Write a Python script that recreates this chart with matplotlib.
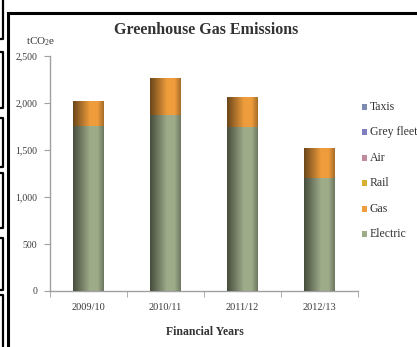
import numpy as np
import matplotlib
matplotlib.use("Agg")
import matplotlib.pyplot as plt
from matplotlib.patches import Rectangle
from matplotlib.lines import Line2D

years = ["2009/10", "2010/11", "2011/12", "2012/13"]
electric = [1760, 1870, 1750, 1205]
gas = [260, 393, 317, 313]
rail = [0, 0, 0, 0]
air = [0, 0, 0, 0]
grey_fleet = [0, 0, 0, 0]
taxis = [0, 0, 0, 0]
yticks = [0, 500, 1000, 1500, 2000, 2500]
ytick_labels = ["0", "500", "1,000", "1,500", "2,000", "2,500"]

series = [("Electric", electric, "#9DAB89"),
          ("Gas", gas, "#EE9C3C"),
          ("Rail", rail, "#D8B032"),
          ("Air", air, "#C08C9C"),
          ("Grey fleet", grey_fleet, "#7E7EC0"),
          ("Taxis", taxis, "#7B8CB0")]

plt.rcParams['font.family'] = ['Liberation Serif', 'DejaVu Serif']
plt.rcParams['mathtext.fontset'] = 'custom'
plt.rcParams['mathtext.rm'] = 'Liberation Serif'

W, H = 417, 347
fig = plt.figure(figsize=(W / 100, H / 100), dpi=100)
fig.patch.set_facecolor("white")

def fx(x):
    return x / W

def fy(y):
    return 1 - y / H

ax = fig.add_axes([fx(50), fy(291), fx(358) - fx(50), fy(56) - fy(291)])
x = np.arange(len(years))
width = 0.39
bottom = np.zeros(len(years))
for name, vals, col in series:
    vals = np.array(vals, dtype=float)
    ax.bar(x, vals, width, bottom=bottom, color=col, edgecolor='none', label=name,
           zorder=2, antialiased=False)
    bottom += vals

# cylinder shading over each whole stacked column
prof = np.linspace(0, 1, 64)
dark = np.clip(0.55 * (1 - prof / 0.55), 0, None) + np.clip((prof - 0.8) / 0.2, 0, None) * 0.3
shade = np.zeros((1, 64, 4))
shade[..., 3] = dark
for xi, tot in zip(x, bottom):
    clip = Rectangle((xi - width / 2, 0), width, tot, transform=ax.transData,
                     facecolor='none', edgecolor='none')
    im = ax.imshow(shade, extent=[xi - width / 2, xi + width / 2, -20, tot + 20],
                   aspect='auto', interpolation='bilinear', zorder=3)
    im.set_clip_path(clip)

ax.set_xlim(-0.5, 3.5)
ax.set_ylim(0, 2500)
ax.set_yticks(yticks)
ax.set_yticklabels(ytick_labels)
ax.set_xticks(x)
ax.set_xticklabels(years)
ax.set_xticks(np.arange(-0.5, 4.0, 1.0), minor=True)
ax.tick_params(axis='x', which='major', length=0, pad=9, labelsize=7.5, labelcolor='#3a3a3a')
ax.tick_params(axis='x', which='minor', length=4, direction='out', color='#a0a0a0')
ax.tick_params(axis='y', length=4, direction='out', color='#a0a0a0', labelsize=7,
               labelcolor='#3a3a3a', pad=5)
for s in ['top', 'right']:
    ax.spines[s].set_visible(False)
for s in ['left', 'bottom']:
    ax.spines[s].set_color('#a0a0a0')
    ax.spines[s].set_linewidth(1.0)

fig.text(fx(206), fy(30), "Greenhouse Gas Emissions", ha='center', va='center',
         fontsize=11.5, fontweight='bold', color='#333333')
fig.text(fx(41), fy(42), r"tCO$_\mathregular{2}$e", ha='center', va='center',
         fontsize=8, color='#333333')
fig.text(fx(205), fy(332), "Financial Years", ha='center', va='center',
         fontsize=8.5, fontweight='bold', color='#333333')

# legend
leg_names = ["Taxis", "Grey fleet", "Air", "Rail", "Gas", "Electric"]
leg_cols = {n: c for n, _, c in series}
for i, n in enumerate(leg_names):
    yy = 107 + i * 25.4
    fig.patches.append(Rectangle((fx(362), fy(yy + 3)), fx(5), 6 / H,
                                 transform=fig.transFigure, facecolor=leg_cols[n],
                                 edgecolor='none'))
    fig.text(fx(370), fy(yy), n, ha='left', va='center', fontsize=8.5, color='#333333')

# document frame lines
fig.add_artist(Line2D([fx(8), 1], [fy(12.5), fy(12.5)], color='black', lw=2.2))
fig.add_artist(Line2D([fx(8), fx(8)], [fy(12.5), 0], color='black', lw=2.2))
boxes = [(-5, 39), (52, 108), (118, 167), (173, 228), (238, 290), (295, 352)]
for t, b in boxes:
    fig.add_artist(Line2D([0, fx(3), fx(3), 0], [fy(t), fy(t), fy(b), fy(b)],
                          color='black', lw=1.6))

fig.savefig("out.png", dpi=100, facecolor='white')
